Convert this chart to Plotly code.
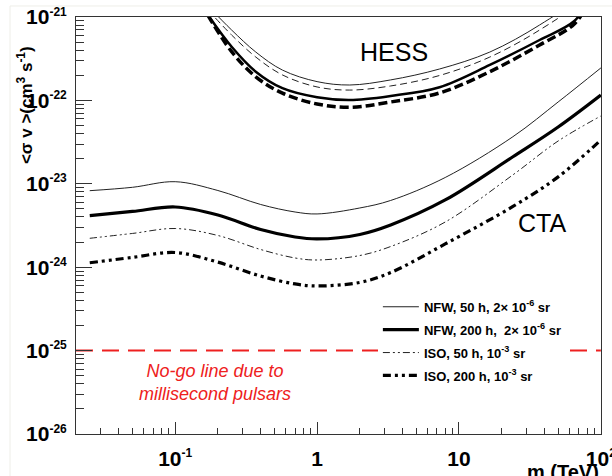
import plotly.graph_objects as go
import math

# ---------------- data ----------------
cta_mass = [0.025, 0.05, 0.1, 0.2, 0.4, 0.7, 1.0, 2.0, 3.3, 8.0, 24.0, 50.0, 100.0]
nfw_50h = [8.27e-24, 9.08e-24, 1.06e-23, 8.31e-24, 5.65e-24, 4.59e-24, 4.35e-24, 5.13e-24, 6.31e-24, 1.19e-23, 3.67e-23, 9.57e-23, 2.45e-22]
nfw_200h = [4.15e-24, 4.66e-24, 5.27e-24, 4.23e-24, 2.83e-24, 2.30e-24, 2.18e-24, 2.47e-24, 3.21e-24, 6.40e-24, 2.11e-23, 4.80e-23, 1.16e-22]
iso_50h = [2.22e-24, 2.54e-24, 2.91e-24, 2.40e-24, 1.63e-24, 1.29e-24, 1.22e-24, 1.38e-24, 1.77e-24, 3.48e-24, 1.28e-23, 3.26e-23, 6.50e-23]
iso_200h = [1.13e-24, 1.31e-24, 1.50e-24, 1.15e-24, 7.83e-25, 6.30e-25, 5.96e-25, 6.57e-25, 8.63e-25, 1.90e-24, 5.35e-24, 1.21e-23, 3.35e-23]

hess_mass = [0.17, 0.25, 0.37, 0.57, 1.0, 1.7, 3.3, 7.3, 16.5, 37.0, 65.0, 80.0]
hess_thin = [1.36e-21, 6.98e-22, 3.80e-22, 2.31e-22, 1.68e-22, 1.53e-22, 1.76e-22, 2.38e-22, 3.80e-22, 8.02e-22, 1.60e-21, 3.0e-21]
hess_thin_dashed = [1.22e-21, 6.08e-22, 3.31e-22, 2.02e-22, 1.45e-22, 1.33e-22, 1.49e-22, 1.99e-22, 3.31e-22, 6.98e-22, 1.39e-21, 2.5e-21]
hess_thick = [1.06e-21, 4.40e-22, 2.21e-22, 1.40e-22, 1.09e-22, 1.01e-22, 1.13e-22, 1.44e-22, 2.66e-22, 5.30e-22, 8.95e-22, 1.5e-21]
hess_thick_dashed = [1.05e-21, 3.84e-22, 1.92e-22, 1.22e-22, 9.06e-23, 8.26e-23, 9.57e-23, 1.23e-22, 2.21e-22, 4.62e-22, 8.24e-22, 1.4e-21]

nogo_mass = [0.02, 100.0]
nogo_level = [1e-25, 1e-25]

SUP = "<sup><span style='font-size:12px'>{}</span></sup>"
x_tickvals = [0.1, 1, 10, 100]
x_ticktext = ["10" + SUP.format("-1"), "1", "10", "10" + SUP.format("2")]
y_tickvals = [1e-26, 1e-25, 1e-24, 1e-23, 1e-22, 1e-21]
y_ticktext = ["10" + SUP.format(e) for e in ["-26", "-25", "-24", "-23", "-22", "-21"]]

legend_names = ["NFW, 50 h, 2\u00d7 10<sup>-6</sup> sr",
                "NFW, 200 h,  2\u00d7 10<sup>-6</sup> sr",
                "ISO, 50 h, 10<sup>-3</sup> sr",
                "ISO, 200 h, 10<sup>-3</sup> sr"]

# ---------------- figure ----------------
fig = go.Figure()

# no-go line
fig.add_trace(go.Scatter(x=nogo_mass, y=nogo_level, mode="lines",
                         line=dict(color="#ee2020", width=2, dash="17px,9px"),
                         showlegend=False, hoverinfo="skip"))

# HESS curves
hess_styles = [
    (hess_thin, dict(color="#222", width=1)),
    (hess_thin_dashed, dict(color="#222", width=1, dash="7px,4px")),
    (hess_thick, dict(color="black", width=2.5)),
    (hess_thick_dashed, dict(color="black", width=3.5, dash="9px,4px")),
]
for ys, ln in hess_styles:
    fig.add_trace(go.Scatter(x=hess_mass, y=ys, mode="lines", line=dict(shape="spline", **ln),
                             showlegend=False, hoverinfo="skip"))

# CTA curves
cta_series = [nfw_50h, nfw_200h, iso_50h, iso_200h]
cta_styles = [
    dict(color="#222", width=1),
    dict(color="black", width=3.2),
    dict(color="#222", width=1, dash="7px,3px,2px,3px,2px,3px"),
    dict(color="black", width=3.2, dash="8px,4px,3px,4px,3px,4px"),
]
for i, (ys, ln) in enumerate(zip(cta_series, cta_styles)):
    fig.add_trace(go.Scatter(x=cta_mass, y=ys, mode="lines", line=dict(shape="spline", **ln),
                             name="<b>" + legend_names[i] + "</b>", legendgroup=f"g{i}",
                             hoverinfo="skip"))

tickfont = dict(family="Liberation Sans", size=21, color="black", weight="bold")

fig.update_xaxes(type="log", range=[math.log10(0.02), 2.001], showgrid=False, zeroline=False,
                 automargin=False, ticklabeloverflow="allow",
                 showline=True, linecolor="#333", linewidth=1, mirror=True,
                 ticks="inside", ticklen=12, tickcolor="#333", tickwidth=1,
                 tickmode="array", tickvals=x_tickvals, ticktext=x_ticktext,
                 tickfont=tickfont, ticklabelstandoff=6,
                 minor=dict(ticks="inside", ticklen=6, tickcolor="#333",
                            tickvals=[m * 10 ** e for e in range(-2, 2) for m in range(2, 10)],
                            showgrid=False))
fig.update_yaxes(type="log", range=[-26, -21], showgrid=False, zeroline=False,
                 automargin=False, ticklabeloverflow="allow",
                 showline=True, linecolor="#333", linewidth=1, mirror=True,
                 ticks="inside", ticklen=16, tickcolor="#333", tickwidth=1,
                 tickmode="array", tickvals=y_tickvals, ticktext=y_ticktext,
                 tickfont=tickfont, ticklabelstandoff=4,
                 minor=dict(ticks="inside", ticklen=8, tickcolor="#333",
                            tickvals=[m * 10.0 ** e for e in range(-26, -21) for m in range(2, 10)],
                            showgrid=False))

annotations = [
    dict(x=math.log10(3.48), y=-21.42, xref="x", yref="y", text="HESS", showarrow=False,
         font=dict(family="Liberation Sans", size=25, color="black")),
    dict(x=1.588, y=-23.464, xref="x", yref="y", text="CTA", showarrow=False,
         font=dict(family="Liberation Sans", size=25, color="black")),
    dict(x=-0.718, y=-25.377, xref="x", yref="y",
         text="<i>No-go line due to<br>millisecond pulsars</i>", showarrow=False,
         font=dict(family="Liberation Sans", size=18, color="#ee2020")),
    dict(x=-0.097, y=0.789, xref="paper", yref="paper", xanchor="center", yanchor="middle",
         textangle=-90, text="<b>&lt;\u03c3 v &gt;(cm<sup>3</sup> s<sup>-1</sup>)</b>", showarrow=False,
         font=dict(family="Liberation Sans", size=17, color="black")),
    dict(x=1.0, y=-0.092, xref="paper", yref="paper", xanchor="right", yanchor="middle",
         text="<b>m (TeV)</b>", showarrow=False,
         font=dict(family="Liberation Sans", size=20, color="black")),
]

fig.update_layout(
    width=612, height=476,
    margin=dict(l=76, r=11, t=17, b=42),
    paper_bgcolor="white", plot_bgcolor="white",
    annotations=annotations,
    legend=dict(x=0.575, y=0.341, xanchor="left", yanchor="top", bgcolor="white",
                borderwidth=0, tracegroupgap=3, itemwidth=36,
                font=dict(family="Liberation Sans", size=13, color="black")),
    shapes=[dict(type="rect", xref="paper", yref="paper", x0=-0.1257, x1=1.2, y0=-0.3, y1=1.0264,
                 line=dict(color="#eeeee8", width=1), layer="below")],
)

fig.write_html("out.html", config={"displayModeBar": False},
               post_script="document.body.style.margin='0';document.body.style.padding='0';")
